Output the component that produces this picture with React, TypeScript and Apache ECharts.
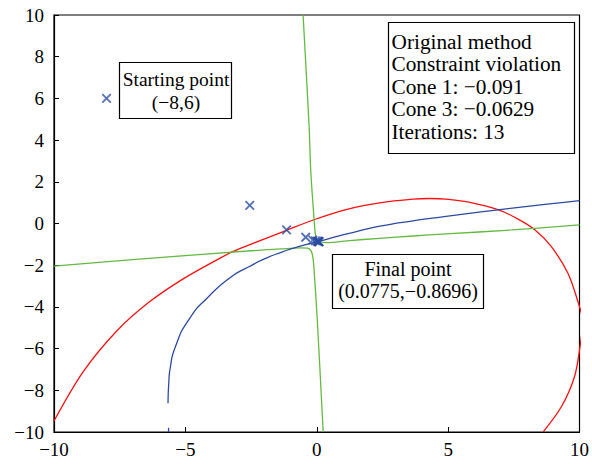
import React, { useEffect, useRef } from "react";
import * as echarts from "echarts";

// Data
const xTicks = [-10, -5, 0, 5, 10];
const yTicks = [-10, -8, -6, -4, -2, 0, 2, 4, 6, 8, 10];

// Cone 1 boundary (red)
const redCurve: number[][] = [
  [-10, -9.47], [-8.9, -7.13], [-7.64, -5.19], [-6.38, -3.77], [-5.13, -2.69],
  [-3.87, -1.79], [-3.18, -1.34], [-2.62, -1.05], [-1.15, -0.33], [-0.11, 0.18],
  [1.15, 0.68], [2.4, 0.99], [3.66, 1.17], [4.3, 1.2], [4.92, 1.17], [5.79, 1.02],
  [6.92, 0.65], [7.68, 0.2], [8.31, -0.31], [8.93, -1.11], [9.56, -2.39], [9.94, -3.75],
  [10.12, -4.7], [10.02, -5.9], [9.81, -7.35], [9.31, -8.79], [8.62, -9.99],
];

// Objective level curve (blue)
const blueCurve: number[][] = [
  [-5.66, -8.62], [-5.63, -7.6], [-5.57, -6.87], [-5.38, -5.91], [-4.88, -4.63],
  [-4.12, -3.51], [-3.25, -2.55], [-2.62, -2.1], [-1.99, -1.7], [-1.3, -1.36],
  [-0.73, -1.12], [0.02, -0.87], [1.15, -0.5], [2.4, -0.13], [3.66, 0.13],
  [4.92, 0.34], [7.05, 0.68], [10, 1.1],
];
const blueTail: number[][] = [[-5.64, -9.8], [-5.64, -10]];

// Cone 3 boundary (green), two branches
const greenUpper: number[][] = [
  [-0.52, 10], [-0.29, 4.64], [-0.23, 2.57], [-0.11, 0.33], [-0.06, -0.45],
  [-0.02, -0.72], [0.1, -0.86], [0.4, -0.92], [1.15, -0.83], [2.4, -0.71],
  [3.66, -0.6], [4.92, -0.5], [7.43, -0.31], [10, -0.07],
];
const greenLower: number[][] = [
  [-10, -2.04], [-6.38, -1.67], [-2.62, -1.32], [-1.36, -1.22], [-0.6, -1.17],
  [-0.35, -1.18], [-0.22, -1.3], [-0.15, -1.6], [-0.11, -2.07], [0.02, -4.63],
  [0.245, -10],
];

// Iterates
const iterates: number[][] = [
  [-8, 6], [-2.55, 0.87], [-1.15, -0.31], [-0.42, -0.66], [-0.15, -0.8],
  [-0.05, -0.83], [0.02, -0.85], [0.05, -0.86], [0.07, -0.865], [0.075, -0.868],
  [0.0775, -0.8696], [0.0775, -0.8696], [0.0775, -0.8696],
];

const infoLines = [
  "Original method",
  "Constraint violation",
  "Cone 1: \u22120.091",
  "Cone 3: \u22120.0629",
  "Iterations: 13",
];
const startLines = ["Starting point", "(\u22128,6)"];
const finalLines = ["Final point", "(0.0775,\u22120.8696)"];

const FONT = "'Liberation Serif', 'Times New Roman', serif";
const RED = "#ff1010";
const BLUE = "#2b4ba3";
const GREEN = "#62bb40";

const fmt = (v: number) => (v < 0 ? "\u2212" + Math.abs(v) : String(v));

export default function App() {
  const ref = useRef<HTMLDivElement>(null);
  useEffect(() => {
    if (!ref.current) return;
    const chart = echarts.init(ref.current, undefined, { renderer: "svg" });
    const lineStyle = (c: string) => ({ color: c, width: 1.3 });
    const textEl = (lines: string[], x: number, y: number, size: number, lh: number, align: string) => ({
      type: "text",
      x,
      y,
      style: {
        text: lines.join("\n"),
        fill: "#000",
        font: `${size}px ${FONT}`,
        lineHeight: lh,
        textAlign: align,
        textVerticalAlign: "top",
      },
    });
    chart.setOption({
      animation: false,
      backgroundColor: "#fff",
      grid: {
        left: 54,
        right: 9,
        top: 15,
        bottom: 32,
        show: true,
        borderColor: "#000",
        borderWidth: 1.2,
        containLabel: false,
      },
      xAxis: {
        type: "value",
        min: -10,
        max: 10,
        interval: 5,
        axisLine: { show: true, onZero: false, lineStyle: { color: "#000", width: 1.2 } },
        axisTick: { show: true, inside: true, length: 5, lineStyle: { color: "#000" } },
        splitLine: { show: false },
        axisLabel: {
          color: "#000",
          fontFamily: FONT,
          fontSize: 19,
          margin: 8,
          formatter: fmt,
          customValues: xTicks,
        },
      },
      yAxis: {
        type: "value",
        min: -10,
        max: 10,
        interval: 2,
        axisLine: { show: true, onZero: false, lineStyle: { color: "#000", width: 1.2 } },
        axisTick: { show: true, inside: true, length: 5, lineStyle: { color: "#000" } },
        splitLine: { show: false },
        axisLabel: {
          color: "#000",
          fontFamily: FONT,
          fontSize: 19,
          margin: 10,
          formatter: fmt,
          customValues: yTicks,
        },
      },
      series: [
        { type: "line", data: redCurve, smooth: 0.3, showSymbol: false, lineStyle: lineStyle(RED), clip: true },
        { type: "line", data: greenUpper, smooth: 0.3, showSymbol: false, lineStyle: lineStyle(GREEN), clip: true },
        { type: "line", data: greenLower, smooth: 0.3, showSymbol: false, lineStyle: lineStyle(GREEN), clip: true },
        { type: "line", data: blueCurve, smooth: 0.6, showSymbol: false, lineStyle: lineStyle(BLUE), clip: true },
        { type: "line", data: blueTail, showSymbol: false, lineStyle: lineStyle(BLUE), clip: true },
        {
          type: "scatter",
          data: iterates,
          symbol: "path://M0,0L10,10M10,0L0,10",
          symbolSize: 8.5,
          itemStyle: { color: "none", borderColor: BLUE, borderWidth: 1.8 },
          z: 5,
        },
      ],
      graphic: [
        {
          type: "group",
          children: [
            { type: "rect", shape: { x: 119.5, y: 62.5, width: 112, height: 56 }, style: { fill: "#fff", stroke: "#000", lineWidth: 1.2 } },
            textEl(startLines, 176, 67.5, 19.5, 23, "center"),
          ],
        },
        {
          type: "group",
          children: [
            { type: "rect", shape: { x: 332.5, y: 254.5, width: 151, height: 54 }, style: { fill: "#fff", stroke: "#000", lineWidth: 1.2 } },
            textEl(finalLines, 408, 258, 20, 22, "center"),
          ],
        },
        {
          type: "group",
          children: [
            { type: "rect", shape: { x: 388.5, y: 22.5, width: 186, height: 131 }, style: { fill: "#fff", stroke: "#000", lineWidth: 1.2 } },
            textEl(infoLines, 391.5, 30.5, 21.3, 22.5, "left"),
          ],
        },
      ],
    });
    return () => chart.dispose();
  }, []);
  return (
    <div
      ref={ref}
      style={{ position: "fixed", left: 0, top: 0, width: 592, height: 464, background: "#fff" }}
    />
  );
}
